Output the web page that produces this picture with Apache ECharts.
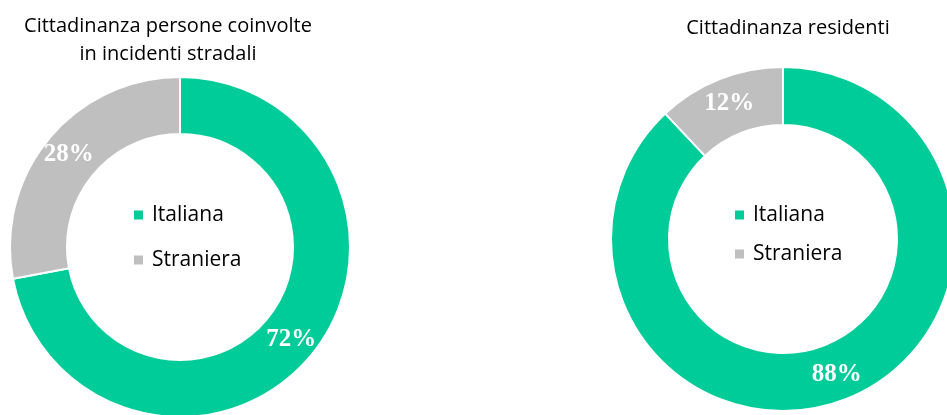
<!DOCTYPE html>
<html>
<head>
<meta charset="utf-8">
<script src="https://cdn.jsdelivr.net/npm/echarts@6/dist/echarts.min.js"></script>
<style>
html,body{margin:0;padding:0;background:#fff;}
#chart{width:947px;height:415px;}
</style>
</head>
<body>
<div id="chart"></div>
<script>
const categories = ['Italiana', 'Straniera'];
const coinvolti = [72, 28];
const residenti = [88, 12];
const titles = ['Cittadinanza persone coinvolte\nin incidenti stradali', 'Cittadinanza residenti'];
const colors = ['#00CC99', '#BFBFBF'];

const chart = echarts.init(document.getElementById('chart'));
const font = '"Open Sans", sans-serif';
function pieSeries(values, center, radius) {
  return {
    type: 'pie',
    center: center,
    radius: radius,
    startAngle: 90,
    clockwise: true,
    avoidLabelOverlap: false,
    silent: true,
    itemStyle: { borderColor: '#fff', borderWidth: 2 },
    label: {
      show: true,
      position: 'inside',
      formatter: p => p.value + '%',
      color: '#fff',
      fontFamily: '"Liberation Serif", serif',
      fontWeight: 'bold',
      fontSize: 25
    },
    labelLine: { show: false },
    data: categories.map((c, i) => ({ name: c, value: values[i], itemStyle: { color: colors[i] } }))
  };
}
function legend(left, top, gap) {
  return {
    orient: 'vertical',
    left: left, top: top,
    padding: 0,
    itemWidth: 11, itemHeight: 11, itemGap: gap,
    icon: 'rect',
    data: categories,
    selectedMode: false,
    textStyle: { fontFamily: font, fontSize: 21, color: '#000', lineHeight: 22, padding: [0, 0, 0, 3] }
  };
}
chart.setOption({
  animation: false,
  color: colors,
  title: [
    { text: titles[0], left: 163, top: 7, textAlign: 'center',
      textStyle: { fontFamily: font, fontSize: 20, fontWeight: 'normal', color: '#000', lineHeight: 28 } },
    { text: titles[1], left: 783, top: 9, textAlign: 'center',
      textStyle: { fontFamily: font, fontSize: 20, fontWeight: 'normal', color: '#000', lineHeight: 28 } }
  ],
  legend: [legend(132, 204, 23), legend(733, 204, 17)],
  series: [
    pieSeries(coinvolti, [180, 247], [113, 170]),
    pieSeries(residenti, [783, 239], [114, 172])
  ]
});
</script>
</body>
</html>
